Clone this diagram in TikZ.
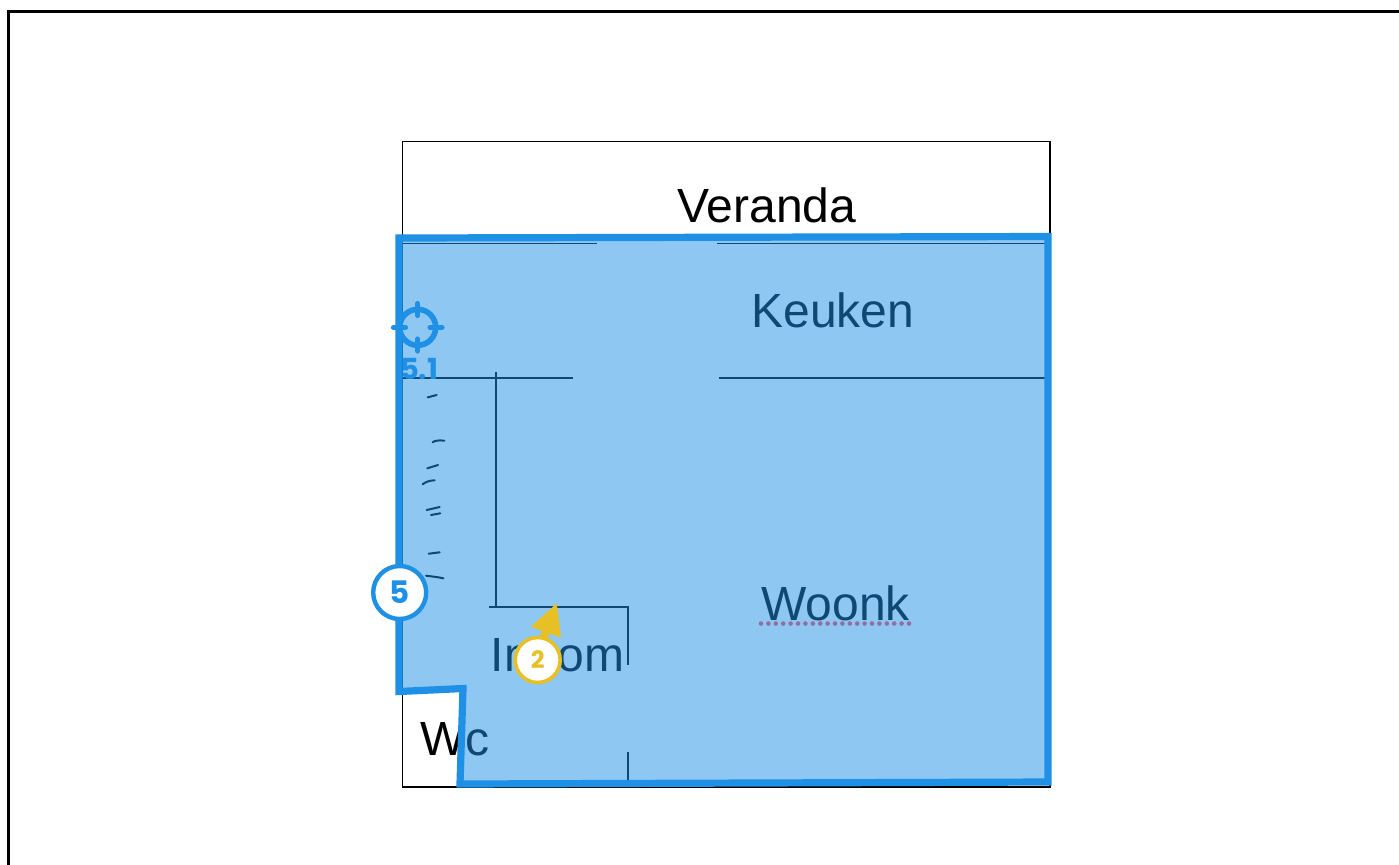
\documentclass[tikz,border=0pt]{standalone}
\usepackage{fontspec}
\setmainfont{Liberation Sans}
\newfontfamily\badgefont{Poppins}[Scale=1]
\definecolor{zoneblue}{HTML}{1E90E6}
\definecolor{pinyellow}{HTML}{E6C024}
\definecolor{spellmark}{HTML}{936FA0}
\tikzset{
  plan/.style={draw=black,line width=0.9pt},
  tick/.style={draw=black,line width=1pt,line cap=round},
  room/.style={font=\fontsize{24pt}{26pt}\selectfont,anchor=base west,inner sep=0pt,text=black},
  zonefill/.style={fill=zoneblue,fill opacity=0.5},
  zoneline/.style={draw=zoneblue,line width=3.6pt,line join=miter},
  badge/.style={circle,fill=white,inner sep=0pt,font=\badgefont\bfseries},
}
\begin{document}
\begin{tikzpicture}[x=0.5pt,y=-0.5pt]
\useasboundingbox (0,0) rectangle (1399,864);
\fill[white] (0,0) rectangle (1399,864);
\draw[black,line width=1.5pt,line cap=butt] (8.5,870) -- (8.5,11) -- (1405,11);
% plan
\draw[plan,line width=0.7pt] (402.5,141.5) rectangle (1050,787);
\draw[plan] (402,243.5) -- (597,243.5) (717,243.5) -- (1046,243.5);
\draw[plan] (402,378) -- (573,378) (719,378) -- (1046,378);
\draw[plan,line width=1.1pt] (496,372) -- (496,607);
\draw[plan] (489,607) -- (628,607) -- (628,665);
\draw[plan] (628,752) -- (628,787);
\draw[tick] (427.7,397.3) -- (436.7,395);
\draw[tick] (432.7,442.3) .. controls (435,440.5) and (439,440) .. (444.3,440.7);
\draw[tick] (427.3,468.3) -- (438,465);
\draw[tick] (422.7,484.3) .. controls (426,481.5) and (430,480.5) .. (434.7,480.3);
\draw[tick] (426.7,510) -- (439.7,507);
\draw[tick] (431,515) -- (440.3,513.3);
\draw[tick] (428.7,553.7) -- (439.7,552.3);
\draw[tick] (426,575.7) .. controls (432,576.5) and (438,577) .. (443.3,578.3);
\node[room] (veranda) at (677,222) {Veranda};
\node[room] (keuken) at (751,327) {Keuken};
\node[room] (woonk) at (761,620) {Woonk};
\node[room] (inroom) at (490.5,671) {Inoom};
\node[room] (wc) at (420,755) {Wc};
% zone
\fill[zonefill] (399,238) -- (1048,236.5) -- (1048,782) -- (460,784) -- (463,688.5) -- (399,691.5) -- cycle;
\draw[zoneline] (399,238) -- (1048,236.5) -- (1048,782) -- (460,784) -- (463,688.5) -- (399,691.5) -- cycle;
\draw[spellmark,line width=2.3pt,line cap=round,dash pattern=on 0pt off 3.7pt] (761,623.5) -- (910,623.5);
% target
\draw[zoneblue,line width=2.8pt] (417.7,327.3) circle (18);
\draw[zoneblue,line width=2.6pt,line cap=round]
  (417.7,303.5) -- (417.7,315.5) (417.7,339) -- (417.7,351)
  (393.5,327.3) -- (405.5,327.3) (430,327.3) -- (442,327.3);
\node[inner sep=0pt,text=zoneblue,font=\badgefont\bfseries\fontsize{14.5pt}{14pt}\selectfont,anchor=base] (targetlabel) at (419,379) {5.1};
% pin 2
\fill[pinyellow] (556.7,603.3) -- (531,626.7) -- (561,637.7) -- cycle;
\draw[pinyellow,line width=4pt] (537.7,660) -- (546,630);
\node[badge,draw=pinyellow,line width=1.8pt,minimum size=22.5pt,text=pinyellow,font=\badgefont\bfseries\fontsize{12pt}{12pt}\selectfont] (pintwo) at (537.7,660) {2};
% badge 5
\node[badge,draw=zoneblue,line width=2.2pt,minimum size=26.5pt,text=zoneblue,font=\badgefont\bfseries\fontsize{15.5pt}{15pt}\selectfont] (zonefive) at (399.7,592.5) {5};
\end{tikzpicture}
\end{document}
